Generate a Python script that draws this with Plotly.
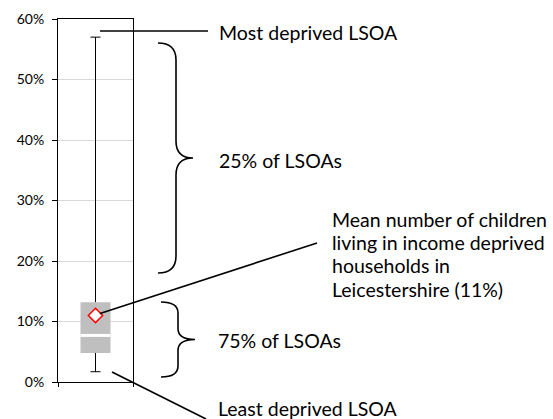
import plotly.graph_objects as go

# ---- data (fractions) ----
category = ["Leicestershire LSOAs"]
min_val = [0.017]
q1_val = [0.048]
median_val = [0.077]
q3_val = [0.132]
max_val = [0.57]
mean_val = [0.11]
y_ticks = [0, 0.1, 0.2, 0.3, 0.4, 0.5, 0.6]
y_tick_labels = ["0%", "10%", "20%", "30%", "40%", "50%", "60%"]

label_max = "Most deprived LSOA"
label_upper = "25% of LSOAs"
label_mean_lines = ["Mean number of children", "living in income deprived",
                    "households in", "Leicestershire (11%)"]
label_lower = "75% of LSOAs"
label_min = "Least deprived LSOA"

# ---- layout geometry (pixels) ----
W, H = 553, 419
L, R, T, B = 58, 133, 19, 382
YMAX = 0.6


def px(x):
    return (x - L) / (R - L)


def py(y):
    return (B - y) / (B - T)


FONT = "Lato"
FS = 19.5
xc = 0.5
bw = 0.4
cap = 0.067

fig = go.Figure()

# box body (q1 -> q3)
fig.add_trace(go.Bar(
    x=[xc], y=[q3_val[0] - q1_val[0]], base=[q1_val[0]], width=bw,
    marker=dict(color="#BFBFBF", line=dict(width=0)),
    hoverinfo="skip", showlegend=False,
))
# median gap
fig.add_trace(go.Scatter(
    x=[xc - bw / 2, xc + bw / 2], y=[median_val[0], median_val[0]],
    mode="lines", line=dict(color="white", width=3),
    hoverinfo="skip", showlegend=False,
))
# whiskers
fig.add_trace(go.Scatter(
    x=[xc, xc, None, xc, xc, None, xc - cap, xc + cap, None, xc - cap, xc + cap],
    y=[q3_val[0], max_val[0], None, q1_val[0], min_val[0], None,
       max_val[0], max_val[0], None, min_val[0], min_val[0]],
    mode="lines", line=dict(color="black", width=1),
    hoverinfo="skip", showlegend=False,
))
# mean marker
fig.add_trace(go.Scatter(
    x=[xc], y=[mean_val[0]], mode="markers",
    marker=dict(symbol="diamond", size=11, color="white",
                line=dict(color="#FF0000", width=1.5)),
    hoverinfo="skip", showlegend=False,
))

shapes = []


def line(x0, y0, x1, y1, w=1.6):
    shapes.append(dict(type="line", xref="paper", yref="paper",
                       x0=px(x0), y0=py(y0), x1=px(x1), y1=py(y1),
                       line=dict(color="black", width=w)))


def brace(xe, xv, xt, y0, y1, r):
    ym = (y0 + y1) / 2
    pts = [
        ("M", [(xe, y0)]),
        ("Q", [(xv, y0), (xv, y0 + r)]),
        ("L", [(xv, ym - r)]),
        ("Q", [(xv, ym), (xt, ym)]),
        ("Q", [(xv, ym), (xv, ym + r)]),
        ("L", [(xv, y1 - r)]),
        ("Q", [(xv, y1), (xe, y1)]),
    ]
    path = ""
    for cmd, ps in pts:
        path += cmd + " ".join(f"{px(a):.5f},{py(b):.5f}" for a, b in ps)
    shapes.append(dict(type="path", xref="paper", yref="paper", path=path,
                       line=dict(color="black", width=1.6)))


# leader lines
line(100, 31, 208, 31)
mean_py = B - mean_val[0] / YMAX * (B - T)
line(100, mean_py - 2, 317, 243)
line(112, 372, 206, 419)

# braces
brace(158, 176, 193, 43, 273, 17)
brace(161, 178, 195, 302, 377, 11)

annotations = []


def text(t, x, y):
    annotations.append(dict(text=t, xref="paper", yref="paper", x=px(x), y=py(y),
                            xanchor="left", yanchor="middle", align="left",
                            showarrow=False,
                            font=dict(family=FONT, size=FS, color="black")))


text(label_max, 217, 33)
text(label_upper, 217, 161)
for i, t in enumerate(label_mean_lines):
    text(t, 330, 219 + i * 23.4)
text(label_lower, 216, 340)
text(label_min, 216, 408)

fig.update_layout(
    template="none",
    width=W, height=H,
    margin=dict(l=L, r=W - R, t=T, b=H - B, pad=0),
    paper_bgcolor="white", plot_bgcolor="white",
    showlegend=False,
    shapes=shapes,
    annotations=annotations,
    barmode="overlay",
    xaxis=dict(range=[0, 1], tickvals=[0, 1], showticklabels=False,
               ticks="outside", ticklen=4, tickcolor="black",
               showgrid=False, zeroline=False, showline=True,
               linecolor="black", linewidth=1, mirror=True, automargin=False,
               fixedrange=True),
    yaxis=dict(range=[0, YMAX], tickvals=y_ticks, ticktext=y_tick_labels,
               ticks="outside", ticklen=5, tickcolor="black",
               ticklabelstandoff=5,
               tickfont=dict(family=FONT, size=14, color="black"),
               showgrid=True, gridcolor="#D9D9D9", gridwidth=1,
               zeroline=False, showline=True, linecolor="black", linewidth=1,
               mirror=True, automargin=False, fixedrange=True),
)

fig.write_html(
    "out.html",
    config={"displayModeBar": False},
    post_script="document.body.style.margin='0';document.body.style.overflow='hidden';",
)
